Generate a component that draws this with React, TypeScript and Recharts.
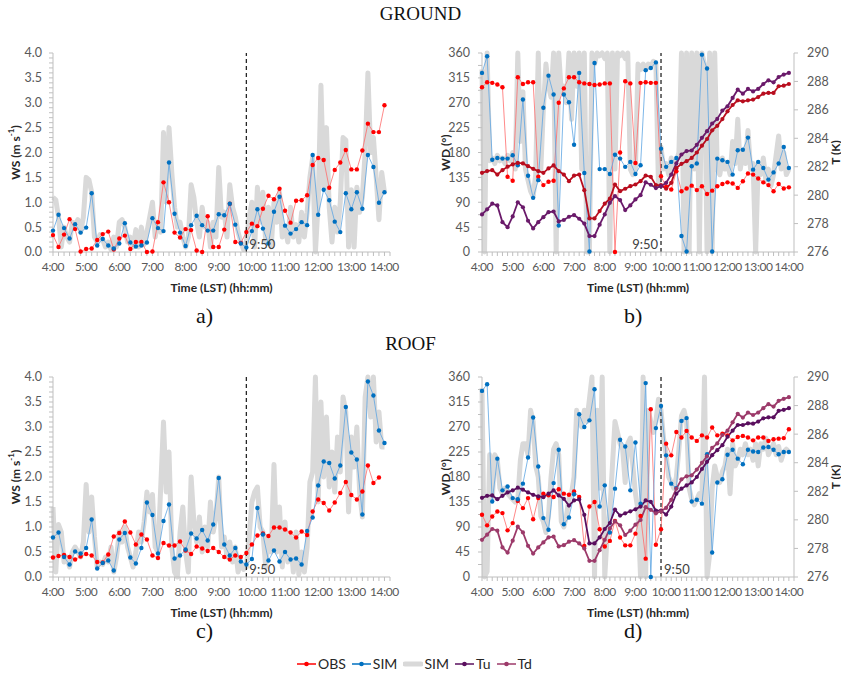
import React from "react";
import { LineChart, Line, XAxis, YAxis, ReferenceLine } from "recharts";

const FONT = "Lato, 'Open Sans', sans-serif";
const AXIS_GREY = "#bfbfbf";
const TICK_TEXT = "#595959";

// time in minutes after midnight, 10-min obs / model output, 5-min high-res model output
const TIME_10 = Array.from({ length: 61 }, (_, i) => 240 + i * 10);
const TIME_5 = Array.from({ length: 121 }, (_, i) => 240 + i * 5);
const X_TICKS = Array.from({ length: 62 }, (_, i) => 240 + i * 10);
const WS_TICKS = Array.from({ length: 41 }, (_, i) => i / 10);
const WD_TICKS = Array.from({ length: 17 }, (_, i) => i * 22.5);
const T_TICKS = [276, 278, 280, 282, 284, 286, 288, 290];
const MARK_TIME = 590; // 9:50

// ---- GROUND ----
const groundWsObs = [
  0.34, 0.1, 0.35, 0.66, 0.46, 0.01, 0.06, 0.07, 0.24, 0.36, 0.41, 0.05,
  0.27, 0.33, 0.06, 0.2, 0.2, 0.0, 0.01, 0.6, 1.4, 1.0, 0.39, 0.29,
  0.46, 0.44, 0.03, 0.0, 0.72, 0.1, 0.1, 0.45, 0.97, 0.2, 0.18, 0.4,
  0.57, 0.52, 0.87, 1.13, 1.06, 1.27, 0.83, 0.59, 1.03, 1.04, 1.14, 1.75,
  1.89, 1.85, 1.29, 1.65, 1.8, 2.05, 1.66, 1.66, 2.04, 2.58, 2.41, 2.41,
  2.95,
];
const groundWsSim = [
  0.43, 0.75, 0.48, 0.27, 0.56, 0.39, 0.49, 1.18, 0.13, 0.26, 0.13, 0.07,
  0.17, 0.58, 0.19, 0.11, 0.13, 0.19, 0.68, 0.48, 0.42, 1.8, 0.77, 0.39,
  0.12, 0.54, 0.73, 0.54, 0.43, 0.43, 0.76, 0.74, 0.97, 0.55, 0.17, 0.09,
  0.42, 0.86, 0.47, 0.17, 0.81, 1.11, 0.53, 0.37, 0.46, 0.6, 0.54, 1.95,
  0.75, 1.25, 1.04, 0.61, 0.4, 1.18, 0.86, 1.2, 0.87, 1.95, 1.71, 0.99,
  1.2,
];
const groundWsSimHf = [
  1.1, 1.05, 0.7, 0.1, 0.5, 0.3, 0.2, 0.6, 0.55, 0.65, 0.4, 0.7,
  1.5, 1.45, 1.2, 0.3, 0.2, 0.35, 0.25, 0.1, 0.2, 0.05, 0.3, 0.1,
  0.6, 0.65, 0.5, 0.2, 0.3, 0.1, 0.45, 0.1, 0.5, 0.15, 0.4, 0.7,
  1.0, 0.3, 0.6, 0.4, 2.4, 1.0, 2.5, 1.6, 0.9, 0.5, 0.6, 0.3,
  0.1, 0.3, 1.35, 1.1, 0.6, 0.3, 0.9, 0.5, 0.6, 0.1, 0.6, 0.3,
  1.7, 0.7, 0.8, 0.3, 1.35, 0.9, 0.7, 0.4, 0.2, 0.05, 0.2, 0.7,
  1.0, 0.1, 1.3, 0.6, 1.2, 0.2, 0.9, 0.1, 1.0, 0.6, 1.2, 0.3,
  0.5, 0.2, 0.9, 0.3, 0.55, 0.2, 0.8, 0.3, 0.8, 1.5, 1.9, 0.0,
  1.0, 3.35, 1.3, 2.5, 0.9, 0.2, 0.9, 0.4, 1.0, 2.3, 2.25, 0.1,
  1.25, 0.1, 1.3, 0.8, 1.1, 2.0, 3.6, 2.0, 2.3, 1.5, 0.65, 1.6,
  1.2,
];
const groundWdObs = [
  298, 307, 306, 303, 298, 136, 129, 316, 304, 307, 307, 136,
  121, 127, 129, 270, 296, 316, 316, 307, 305, 304, 302, 303,
  305, 305, 0, 180, 309, 305, 161, 306, 307, 306, 306, 137,
  118, 113, 146, 110, 115, 120, 112, 119, 105, 111, 119, 123,
  126, 124, 116, 128, 142, 140, 133, 126, 121, 110, 123, 115,
  117,
];
const groundWdSim = [
  324, 354, 167, 170, 169, 169, 175, 157, 276, 138, 98, 130,
  261, 319, 285, 48, 285, 271, 194, 324, 143, 1, 342, 150,
  150, 141, 176, 169, 154, 163, 141, 157, 329, 333, 343, 187,
  154, 163, 170, 29, 1, 155, 160, 357, 332, 1, 169, 166,
  163, 140, 184, 185, 207, 149, 163, 152, 131, 144, 160, 190,
  152,
];
const groundWdSimHf = [
  330, 0, 360, 165, 170, 160, 175, 165, 170, 160, 175, 165,
  180, 150, 360, 200, 290, 150, 130, 110, 100, 140, 360, 150,
  260, 340, 300, 280, 360, 0, 360, 290, 300, 270, 360, 240,
  360, 300, 360, 150, 360, 0, 0, 360, 340, 360, 355, 360,
  350, 360, 0, 360, 150, 360, 355, 360, 350, 360, 150, 140,
  150, 340, 330, 340, 330, 340, 335, 345, 340, 120, 190, 150,
  160, 140, 170, 150, 165, 180, 360, 0, 360, 0, 360, 150,
  360, 0, 360, 340, 0, 360, 0, 360, 150, 140, 170, 150,
  160, 140, 200, 160, 240, 150, 180, 160, 220, 150, 160, 0,
  160, 140, 170, 130, 150, 120, 140, 175, 210, 150, 180, 140,
  150,
];
const groundTu = [
  278.64, 279.0, 279.4, 279.28, 278.1, 277.75, 278.5, 279.5, 279.15, 278.2, 277.66, 278.1,
  278.45, 278.8, 278.85, 278.15, 278.25, 278.48, 278.6, 278.34, 278.0, 277.12, 277.12, 277.92,
  278.64, 279.46, 279.93, 279.65, 278.95, 279.28, 279.7, 280.0, 280.9, 280.73, 280.5, 280.63,
  280.87, 281.45, 282.23, 282.86, 283.1, 283.14, 283.54, 284.03, 284.5, 285.04, 285.36, 285.95,
  286.25, 286.84, 287.42, 287.14, 287.47, 287.3, 287.47, 287.82, 288.08, 287.94, 288.31, 288.48,
  288.6,
];
const groundTd = [
  281.57, 281.69, 281.76, 281.45, 281.76, 282.0, 282.16, 282.27, 282.23, 282.04, 281.85, 281.69,
  281.57, 281.88, 282.09, 281.69, 281.45, 280.98, 281.38, 281.45, 280.35, 278.36, 278.36, 278.88,
  279.4, 279.75, 280.75, 280.28, 280.45, 280.63, 280.75, 280.98, 281.38, 281.29, 280.7, 280.7,
  280.45, 280.87, 281.9, 282.2, 282.39, 282.62, 283.0, 283.48, 283.95, 284.56, 284.88, 285.35,
  285.9, 286.34, 286.67, 286.6, 286.67, 286.72, 286.9, 287.14, 287.19, 287.19, 287.66, 287.7,
  287.82,
];

// ---- ROOF ----
const roofWsObs = [
  0.39, 0.42, 0.44, 0.4, 0.35, 0.41, 0.46, 0.43, 0.3, 0.29, 0.45, 0.81,
  0.88, 1.11, 0.89, 0.65, 0.85, 0.75, 0.43, 0.38, 0.68, 0.63, 0.63, 0.71,
  0.53, 0.46, 0.61, 0.57, 0.52, 0.58, 0.5, 0.4, 0.35, 0.43, 0.4, 0.48,
  0.65, 0.83, 0.87, 0.82, 0.99, 0.99, 0.95, 0.89, 0.79, 0.91, 0.84, 1.31,
  1.55, 1.48, 1.33, 1.49, 1.68, 1.9, 1.64, 1.55, 1.71, 2.23, 1.88, 1.99,
];
const roofWsSim = [
  0.79, 0.89, 0.4, 0.25, 0.51, 0.47, 0.58, 1.15, 0.17, 0.28, 0.33, 0.13,
  0.75, 0.88, 0.39, 0.27, 0.58, 1.49, 1.24, 0.47, 1.12, 1.45, 0.37, 0.43,
  0.55, 0.87, 0.77, 0.94, 0.73, 1.05, 1.98, 0.65, 0.43, 0.58, 0.31, 0.25,
  0.36, 1.38, 0.85, 0.33, 0.53, 0.31, 0.5, 0.35, 0.37, 0.25, 0.92, 1.19,
  1.83, 2.31, 2.28, 1.97, 2.23, 3.4, 2.49, 2.35, 1.25, 3.91, 3.63, 2.93,
  2.68,
];
const roofWsSimHf = [
  1.4, 0.1, 1.05, 0.9, 0.3, 0.4, 0.2, 0.5, 0.6, 0.5, 0.4, 0.7,
  1.85, 0.9, 1.6, 0.8, 0.2, 0.3, 0.25, 0.4, 0.3, 0.6, 0.1, 0.4,
  0.9, 0.7, 1.0, 0.6, 0.4, 0.2, 0.5, 0.9, 0.7, 1.1, 1.7, 1.3,
  1.65, 0.6, 0.5, 1.8, 3.1, 1.7, 2.5, 0.6, 0.1, 0.0, 0.9, 1.4,
  0.5, 0.1, 2.0, 1.1, 0.7, 1.2, 0.5, 1.0, 0.6, 1.5, 0.9, 1.2,
  2.0, 0.6, 0.8, 0.4, 0.7, 0.3, 0.6, 0.1, 0.3, 0.15, 0.2, 0.8,
  1.5, 1.7, 1.8, 1.0, 0.9, 0.2, 0.8, 0.5, 2.25, 0.5, 1.4, 0.2,
  1.1, 0.3, 0.8, 0.1, 0.9, 0.05, 0.5, 0.1, 0.6, 1.9, 2.1, 4.0,
  1.5, 3.5, 2.0, 3.2, 1.8, 2.5, 1.7, 2.8, 2.1, 3.6, 3.3, 1.3,
  2.8, 2.2, 3.0, 1.7, 1.2, 3.6, 4.0, 3.2, 4.0, 2.7, 3.3, 2.6,
  2.6,
];
const roofWdObs = [
  112, 93, 109, 118, 115, 84, 97, 137, 124, 142, 104, 142,
  150, 147, 144, 158, 150, 148, 154, 144, 56, 127, 135, 86,
  55, 65, 101, 71, 57, 57, 78, 110, 33, 302, 58, 86,
  240, 219, 261, 251, 263, 251, 245, 255, 251, 269, 255, 258,
  255, 246, 252, 254, 251, 246, 251, 251, 245, 248, 249, 250,
  266,
];
const roofWdSim = [
  335, 347, 136, 213, 156, 163, 142, 140, 168, 215, 287, 199,
  106, 85, 169, 229, 95, 107, 149, 293, 270, 282, 338, 127,
  165, 80, 159, 247, 235, 156, 242, 132, 349, 0, 268, 308,
  219, 168, 160, 281, 286, 136, 139, 132, 221, 44, 170, 176,
  220, 229, 213, 203, 229, 226, 225, 233, 234, 229, 221, 225,
  225,
];
const roofWdSimHf = [
  340, 0, 10, 220, 140, 220, 210, 160, 150, 160, 150, 145,
  140, 135, 140, 210, 240, 240, 220, 300, 280, 200, 180, 110,
  100, 80, 110, 180, 230, 240, 220, 100, 90, 110, 140, 150,
  180, 300, 280, 270, 300, 280, 320, 360, 0, 300, 160, 360,
  0, 80, 120, 200, 280, 260, 240, 230, 170, 240, 250, 200,
  150, 120, 0, 360, 0, 300, 280, 260, 280, 320, 300, 250,
  220, 180, 170, 160, 180, 230, 290, 300, 280, 160, 140, 130,
  140, 150, 140, 360, 0, 40, 160, 200, 180, 170, 190, 200,
  230, 150, 240, 200, 210, 230, 220, 240, 220, 230, 210, 240,
  200, 240, 230, 250, 220, 230, 240, 220, 235, 210, 225, 230,
  225,
];
const roofTu = [
  281.54, 281.68, 281.71, 281.45, 281.68, 281.92, 282.06, 282.25, 282.11, 281.92, 281.75, 281.64,
  281.59, 281.83, 282.06, 281.71, 281.47, 281.0, 281.36, 281.43, 280.35, 278.35, 278.35, 278.77,
  279.36, 279.78, 280.72, 280.3, 280.46, 280.6, 280.74, 280.93, 281.36, 281.26, 280.65, 280.65,
  280.37, 280.93, 281.83, 282.18, 282.41, 282.62, 283.0, 283.56, 284.06, 284.53, 284.88, 285.23,
  285.82, 286.24, 286.64, 286.64, 286.76, 286.73, 286.88, 287.11, 287.18, 287.18, 287.63, 287.7,
  287.82,
];
const roofTd = [
  278.6, 278.96, 279.36, 279.24, 278.07, 277.71, 278.54, 279.52, 279.12, 278.18, 277.64, 278.07,
  278.42, 278.77, 278.82, 278.14, 278.23, 278.47, 278.58, 278.35, 278.0, 277.13, 277.13, 277.88,
  278.6, 279.4, 279.9, 279.62, 278.94, 279.24, 279.66, 279.99, 280.89, 280.7, 280.46, 280.6,
  280.84, 281.4, 282.18, 282.84, 283.05, 283.12, 283.52, 283.99, 284.46, 285.04, 285.35, 285.94,
  286.24, 286.83, 287.42, 287.16, 287.51, 287.34, 287.51, 287.82, 288.1, 287.93, 288.33, 288.47,
  288.59,
];

const toRows = (times: number[], vals: number[]) =>
  vals.map((v, i) => ({ t: times[i], v }));

const fmtTime = (v: number) => (v % 60 === 0 && v <= 840 ? `${v / 60}:00` : "");
const fmtWs = (v: number) =>
  Math.abs(v * 2 - Math.round(v * 2)) < 1e-6 ? v.toFixed(1) : "";
const fmtWd = (v: number) => (v % 45 === 0 ? String(v) : "");

const tickStyle = { fill: TICK_TEXT, fontSize: 12.5, fontFamily: FONT };
const xTickStyle = { fill: TICK_TEXT, fontSize: 12, fontFamily: FONT, letterSpacing: -0.4 };

const rotTitle = (dx: number, parts: [string, string?, string?]) => (p: any) => {
  const vb = p.viewBox;
  const cx = vb.x + dx;
  const cy = vb.y + vb.height / 2;
  return (
    <text
      x={cx}
      y={cy}
      transform={`rotate(-90 ${cx} ${cy})`}
      textAnchor="middle"
      dominantBaseline="central"
      fill="#262626"
      fontSize={12}
      fontWeight={700}
      fontFamily={FONT}
    >
      {parts[0]}
      {parts[1] && (
        <tspan dy={-4} fontSize={8}>
          {parts[1]}
        </tspan>
      )}
      {parts[2] && <tspan dy={4}>{parts[2]}</tspan>}
    </text>
  );
};

type PanelProps = {
  left: number;
  top: number;
  height: number;
  marginTop: number;
  kind: "ws" | "wd";
  obs: number[];
  sim: number[];
  simHf: number[];
  tLow?: number[];
  tHigh?: number[];
  lowColor?: string;
  highColor?: string;
  markSide: "left" | "right";
};

function Panel(props: PanelProps) {
  const { left, top, height, marginTop, kind, obs, sim, simHf, tLow, tHigh, lowColor, highColor, markSide } = props;
  const isWd = kind === "wd";
  return (
    <div style={{ position: "absolute", left, top }}>
      <LineChart
        width={isWd ? 421 : 420}
        height={height}
        margin={{ top: marginTop, right: isWd ? 0 : 30, bottom: 0, left: 0 }}
      >
        <XAxis
          type="number"
          dataKey="t"
          domain={[240, 850]}
          ticks={X_TICKS}
          interval={0}
          tickFormatter={fmtTime}
          stroke={AXIS_GREY}
          tickSize={4}
          tickMargin={6}
          tick={xTickStyle}
          height={58}
          label={{
            value: "Time (LST) (hh:mm)",
            position: "insideBottom",
            offset: 18,
            fill: "#262626",
            fontSize: 12,
            fontWeight: 700,
            fontFamily: FONT,
          }}
        />
        <YAxis
          yAxisId="L"
          type="number"
          domain={isWd ? [0, 360] : [0, 4]}
          ticks={isWd ? WD_TICKS : WS_TICKS}
          interval={0}
          tickFormatter={isWd ? fmtWd : fmtWs}
          width={isWd ? 62 : 53}
          stroke={AXIS_GREY}
          tickSize={4}
          tickMargin={isWd ? 8 : 7}
          tick={tickStyle}
          label={isWd ? rotTitle(25, ["WD (°)"]) : rotTitle(15, ["WS (m s", "-1", ")"])}
        />
        {isWd && (
          <YAxis
            yAxisId="T"
            orientation="right"
            type="number"
            domain={[276, 290]}
            ticks={T_TICKS}
            interval={0}
            width={47}
            stroke={AXIS_GREY}
            tickSize={4}
            tickMargin={9}
            tick={tickStyle}
            label={rotTitle(41, ["T (K)"])}
          />
        )}
        <Line
          yAxisId="L"
          data={toRows(TIME_5, simHf)}
          dataKey="v"
          stroke="#d9d9d9"
          strokeWidth={5}
          strokeLinejoin="round"
          dot={false}
          activeDot={false}
          isAnimationActive={false}
        />
        <ReferenceLine
          yAxisId="L"
          x={MARK_TIME}
          stroke="#262626"
          strokeWidth={1.3}
          strokeDasharray="4 3"
          label={{
            value: "9:50",
            position: markSide === "right" ? "insideBottomLeft" : "insideBottomRight",
            offset: 3,
            fill: "#404040",
            fontSize: 13,
            fontFamily: FONT,
          }}
        />
        <Line
          yAxisId="L"
          data={toRows(TIME_10, obs)}
          dataKey="v"
          stroke="#ff6b6b"
          strokeWidth={0.8}
          dot={{ r: 2.2, fill: "#ff0000", stroke: "#ff0000", strokeWidth: 0 }}
          activeDot={false}
          isAnimationActive={false}
        />
        <Line
          yAxisId="L"
          data={toRows(TIME_10, sim)}
          dataKey="v"
          stroke="#5da5e2"
          strokeWidth={0.8}
          dot={{ r: 2.2, fill: "#0070c0", stroke: "#0070c0", strokeWidth: 0 }}
          activeDot={false}
          isAnimationActive={false}
        />
        {isWd && tHigh && (
          <Line
            yAxisId="T"
            data={toRows(TIME_10, tHigh)}
            dataKey="v"
            stroke={highColor}
            strokeWidth={1.8}
            dot={{ r: 2.1, fill: highColor, stroke: highColor, strokeWidth: 0 }}
            activeDot={false}
            isAnimationActive={false}
          />
        )}
        {isWd && tLow && (
          <Line
            yAxisId="T"
            data={toRows(TIME_10, tLow)}
            dataKey="v"
            stroke={lowColor}
            strokeWidth={1.8}
            dot={{ r: 2.1, fill: lowColor, stroke: lowColor, strokeWidth: 0 }}
            activeDot={false}
            isAnimationActive={false}
          />
        )}
      </LineChart>
    </div>
  );
}

const serif = "'Liberation Serif', 'DejaVu Serif', serif";

const LegendItem = ({ color, label, thick }: { color: string; label: string; thick?: boolean }) => (
  <div style={{ display: "flex", alignItems: "center", marginRight: 6 }}>
    <svg width={20} height={10}>
      {thick ? (
        <line x1={2} y1={5} x2={18} y2={5} stroke="#d9d9d9" strokeWidth={5} strokeLinecap="round" />
      ) : (
        <>
          <line x1={0} y1={5} x2={19} y2={5} stroke={color} strokeWidth={1.5} />
          <circle cx={9.5} cy={5} r={2.3} fill={color} />
        </>
      )}
    </svg>
    <span style={{ fontSize: 14, color: "#262626", fontFamily: FONT, marginLeft: 1 }}>{label}</span>
  </div>
);

export default function App() {
  return (
    <div style={{ position: "absolute", left: 0, top: 0, width: 841, height: 675, background: "#fff", overflow: "hidden" }}>
      <div style={{ position: "absolute", left: 0, width: 841, top: 3, textAlign: "center", fontFamily: serif, fontSize: 19, color: "#111" }}>
        GROUND
      </div>
      <div style={{ position: "absolute", left: 0, width: 821, top: 333, textAlign: "center", fontFamily: serif, fontSize: 19, color: "#111" }}>
        ROOF
      </div>

      <Panel left={0} top={40} height={270} marginTop={13} kind="ws" obs={groundWsObs} sim={groundWsSim} simHf={groundWsSimHf} markSide="right" />
      <Panel
        left={420}
        top={40}
        height={270}
        marginTop={13}
        kind="wd"
        obs={groundWdObs}
        sim={groundWdSim}
        simHf={groundWdSimHf}
        tLow={groundTu}
        tHigh={groundTd}
        lowColor="#6a1a6a"
        highColor="#b80d1e"
        markSide="left"
      />
      <Panel left={0} top={360} height={275} marginTop={17} kind="ws" obs={roofWsObs} sim={roofWsSim} simHf={roofWsSimHf} markSide="right" />
      <Panel
        left={420}
        top={360}
        height={275}
        marginTop={17}
        kind="wd"
        obs={roofWdObs}
        sim={roofWdSim}
        simHf={roofWdSimHf}
        tLow={roofTd}
        tHigh={roofTu}
        lowColor="#9c3a6a"
        highColor="#5a0f5e"
        markSide="right"
      />

      <div style={{ position: "absolute", left: 196, top: 303, fontFamily: serif, fontSize: 22, color: "#111" }}>a)</div>
      <div style={{ position: "absolute", left: 624, top: 303, fontFamily: serif, fontSize: 22, color: "#111" }}>b)</div>
      <div style={{ position: "absolute", left: 196, top: 618, fontFamily: serif, fontSize: 22, color: "#111" }}>c)</div>
      <div style={{ position: "absolute", left: 624, top: 618, fontFamily: serif, fontSize: 22, color: "#111" }}>d)</div>

      <div style={{ position: "absolute", left: 297, top: 655, display: "flex", alignItems: "center" }}>
        <LegendItem color="#ff0000" label="OBS" />
        <LegendItem color="#0070c0" label="SIM" />
        <LegendItem color="#d9d9d9" label="SIM" thick />
        <LegendItem color="#5a0f5e" label="Tu" />
        <LegendItem color="#9c3a6a" label="Td" />
      </div>
    </div>
  );
}
